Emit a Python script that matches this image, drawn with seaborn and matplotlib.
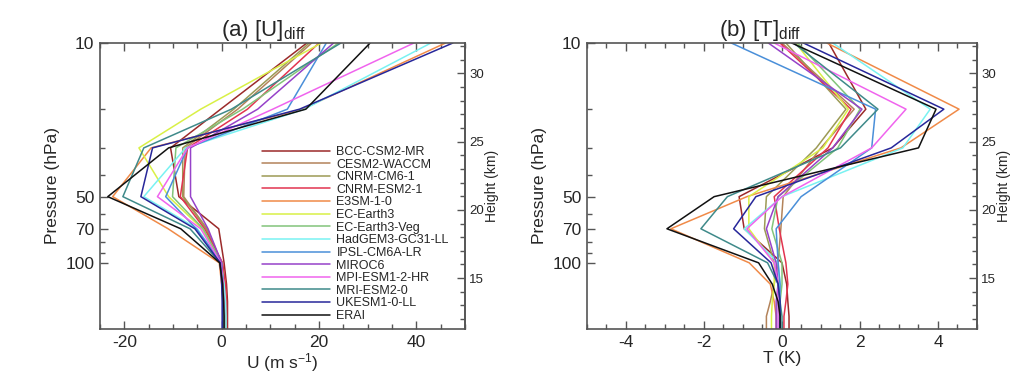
import numpy as np
import pandas as pd
import matplotlib
matplotlib.use('Agg')
import matplotlib.pyplot as plt
from matplotlib.ticker import FormatStrFormatter, NullFormatter
import seaborn as sns

sns.set_style('ticks')
plt.rcParams['font.family'] = ['Liberation Sans', 'DejaVu Sans']
plt.rcParams['mathtext.fontset'] = 'custom'
plt.rcParams['mathtext.rm'] = 'Liberation Sans'
plt.rcParams['mathtext.default'] = 'rm'

# pressure levels (hPa)
levels = [10, 20, 30, 50, 70, 100, 125, 150, 175, 200]

models = ['BCC-CSM2-MR', 'CESM2-WACCM', 'CNRM-CM6-1', 'CNRM-ESM2-1', 'E3SM-1-0',
          'EC-Earth3', 'EC-Earth3-Veg', 'HadGEM3-GC31-LL', 'IPSL-CM6A-LR', 'MIROC6',
          'MPI-ESM1-2-HR', 'MRI-ESM2-0', 'UKESM1-0-LL', 'ERAI']

colors = ['#9b2a2a', '#b3835a', '#9c9a55', '#e2344f', '#f08a48',
          '#d9f046', '#82c47a', '#79f2f2', '#4a8fd9', '#9642c9',
          '#f064ee', '#3f8a8a', '#27279a', '#111111']

# [U]diff (m/s) per model, one value per level
u_diff = [
    [17.5, -0.2, -10.5, -8.8, -0.6, 0.5, 1.0, 1.2, 1.2, 1.2],      # BCC-CSM2-MR
    [18.5, 3.3, -7.5, -7.8, -3.0, 0.0, 0.6, 0.8, 0.8, 0.8],        # CESM2-WACCM
    [18.0, 2.5, -8.0, -8.0, -3.2, 0.0, 0.5, 0.7, 0.7, 0.7],        # CNRM-CM6-1
    [20.0, 5.3, -7.0, -8.5, -3.5, 0.2, 0.8, 1.0, 1.0, 1.0],        # CNRM-ESM2-1
    [46.0, 16.5, -14.5, -22.4, -11.0, -0.5, 0.0, 0.3, 0.4, 0.4],   # E3SM-1-0
    [20.5, -4.3, -17.0, -10.9, -4.0, 0.0, 0.4, 0.5, 0.5, 0.5],     # EC-Earth3
    [24.0, 4.3, -9.4, -10.1, -3.8, 0.0, 0.4, 0.5, 0.5, 0.5],       # EC-Earth3-Veg
    [43.0, 17.0, -7.4, -16.0, -5.0, -0.2, 0.5, 0.8, 0.9, 0.9],     # HadGEM3-GC31-LL
    [21.5, 13.5, -7.0, -11.5, -5.2, 0.0, 0.3, 0.4, 0.4, 0.4],      # IPSL-CM6A-LR
    [23.0, 7.4, -6.4, -6.4, -2.8, 0.0, 0.3, 0.3, 0.3, 0.3],        # MIROC6
    [39.5, 10.5, -7.0, -13.2, -4.3, -0.2, 0.3, 0.4, 0.4, 0.4],     # MPI-ESM1-2-HR
    [24.5, 2.0, -16.0, -20.3, -6.5, -0.3, 0.2, 0.3, 0.3, 0.3],     # MRI-ESM2-0
    [47.5, 16.0, -14.2, -16.6, -5.5, -0.3, 0.0, 0.1, 0.1, 0.1],    # UKESM1-0-LL
    [30.5, 17.3, -10.9, -23.4, -8.4, -0.4, 0.2, 0.4, 0.5, 0.5],    # ERAI
]

# [T]diff (K) per model, one value per level
t_diff = [
    [1.2, 2.15, 1.3, -1.1, -0.97, 0.0, 0.12, 0.15, 0.18, 0.18],     # BCC-CSM2-MR
    [0.0, 1.85, 1.0, 0.03, -0.03, -0.1, -0.2, -0.3, -0.4, -0.4],    # CESM2-WACCM
    [0.1, 1.64, 0.88, -0.4, -0.45, -0.2, -0.1, -0.1, -0.1, -0.1],   # CNRM-CM6-1
    [-0.05, 1.77, 1.18, -0.2, -0.07, 0.1, 0.15, 0.1, 0.05, 0.05],   # CNRM-ESM2-1
    [1.15, 4.54, 3.05, -0.9, -2.85, -0.84, -0.3, -0.2, -0.15, -0.15],  # E3SM-1-0
    [0.35, 1.7, 1.05, -0.85, -0.85, -0.2, -0.2, -0.25, -0.27, -0.27],  # EC-Earth3
    [0.4, 2.0, 1.43, -0.1, -0.26, 0.0, 0.0, -0.05, -0.05, -0.05],   # EC-Earth3-Veg
    [1.3, 3.8, 3.1, 0.0, -0.97, -0.1, -0.05, -0.1, -0.1, -0.1],     # HadGEM3-GC31-LL
    [-1.3, 2.4, 2.3, 0.49, -0.15, -0.1, -0.05, -0.05, -0.05, -0.05],   # IPSL-CM6A-LR
    [-0.35, 2.05, 1.3, -0.1, -0.4, -0.15, -0.1, -0.15, -0.15, -0.15],  # MIROC6
    [-0.2, 3.18, 2.3, 0.0, -0.9, -0.2, -0.1, -0.1, -0.1, -0.1],     # MPI-ESM1-2-HR
    [0.3, 2.46, 1.5, -1.4, -2.08, -0.37, -0.1, -0.05, 0.0, 0.0],    # MRI-ESM2-0
    [0.55, 4.15, 2.8, -0.67, -1.24, -0.28, -0.1, -0.05, -0.05, -0.05],  # UKESM1-0-LL
    [0.25, 3.95, 3.5, -1.74, -2.95, -0.6, -0.25, -0.1, -0.05, -0.05],  # ERAI
]

rows = []
for m, u_row, t_row in zip(models, u_diff, t_diff):
    for p, u, t in zip(levels, u_row, t_row):
        rows.append({'model': m, 'p': p, 'U': u, 'T': t})
df = pd.DataFrame(rows)
palette = dict(zip(models, colors))


def p2z(p):
    p = np.asarray(p, dtype=float)
    with np.errstate(divide='ignore', invalid='ignore'):
        return 7.0 * np.log(1000.0 / np.clip(p, 1e-6, None))


def z2p(z):
    return 1000.0 * np.exp(-np.asarray(z, dtype=float) / 7.0)


fig = plt.figure(figsize=(10.12, 3.76), dpi=100)
ax1 = fig.add_axes([100 / 1012, 47 / 376, 365 / 1012, 286 / 376])
ax2 = fig.add_axes([587 / 1012, 47 / 376, 390 / 1012, 286 / 376])

axis_col = '#555555'

for ax, var, xlim, major, minor, xlabel, title, tx in [
        (ax1, 'U', (-25, 50), 20, 5, r'U (m s$^{-1}$)', r'(a) [U]$_{diff}$', 0.449),
        (ax2, 'T', (-5, 5), 2, 0.5, 'T (K)', r'(b) [T]$_{diff}$', 0.444)]:
    sns.lineplot(data=df, x=var, y='p', hue='model', hue_order=models,
                 palette=palette, orient='y', estimator=None, linewidth=1.1,
                 legend=(ax is ax1), ax=ax)
    ax.set_yscale('log')
    ax.set_ylim(200, 10)
    ax.set_yticks([10, 50, 70, 100])
    ax.set_yticklabels(['10', '50', '70', '100'])
    ax.set_yticks([20, 30, 40, 60, 80, 90], minor=True)
    ax.yaxis.set_minor_formatter(NullFormatter())
    ax.set_xticks(np.arange(-40, 60.01, major))
    ax.set_xticks(np.arange(-40, 60.01, minor), minor=True)
    ax.set_xticklabels([f'{v:g}' for v in np.arange(-40, 60.01, major)])
    ax.set_xlim(*xlim)
    ax.tick_params(which='both', direction='in', top=True, right=False,
                   color=axis_col, labelsize=12.5, pad=4)
    ax.tick_params(which='major', length=6, width=1)
    ax.tick_params(which='minor', length=3.5, width=1)
    for s in ax.spines.values():
        s.set_color(axis_col)
        s.set_linewidth(1.2)
    ax.set_xlabel(xlabel, fontsize=12.5, labelpad=1)
    ax.set_ylabel('Pressure (hPa)', fontsize=12.5, labelpad=4)
    ax.set_title(title, fontsize=16, pad=2, x=tx)

    sec = ax.secondary_yaxis('right', functions=(p2z, z2p))
    sec.set_yticks([15, 20, 25, 30])
    sec.set_yticks(np.arange(12, 33, 1), minor=True)
    sec.yaxis.set_major_formatter(FormatStrFormatter('%d'))
    sec.yaxis.set_minor_formatter(NullFormatter())
    sec.tick_params(which='both', direction='in', color=axis_col, labelsize=9.5, pad=3)
    sec.tick_params(which='major', length=6, width=1)
    sec.tick_params(which='minor', length=3.5, width=1)
    sec.spines['right'].set_color(axis_col)
    sec.spines['right'].set_linewidth(1.2)
    sec.set_ylabel('Height (km)', fontsize=10, labelpad=1)

sns.move_legend(ax1, 'upper left', bbox_to_anchor=(0.444, 0.64), title=None,
                frameon=False, fontsize=9, handlelength=5.4, handletextpad=0.55,
                labelspacing=0.05, borderpad=0, borderaxespad=0)

fig.savefig('out.png', dpi=100)
